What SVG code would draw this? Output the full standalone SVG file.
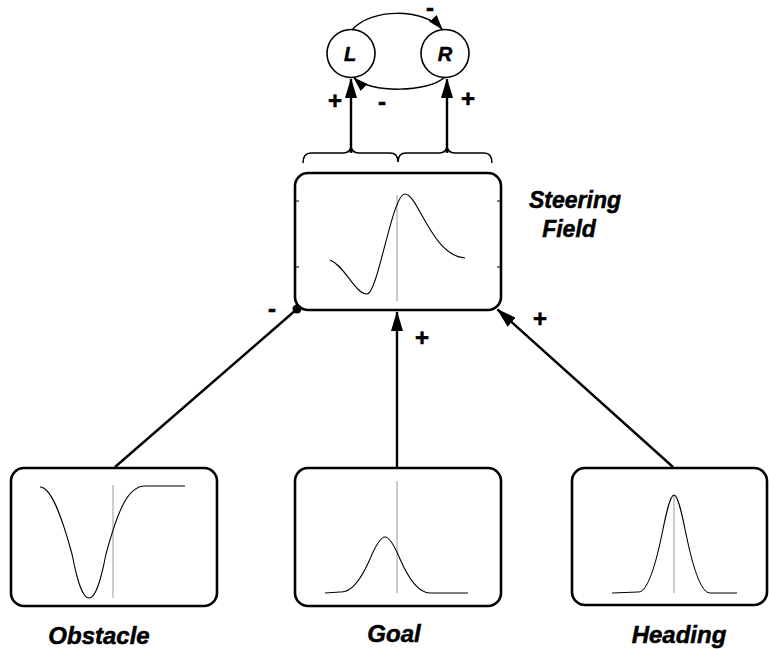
<svg xmlns="http://www.w3.org/2000/svg" width="769" height="649" viewBox="0 0 769 649">
  <style>
    .box { fill: #fff; stroke: #000; stroke-width: 2.6; }
    .curve { fill: none; stroke: #000; stroke-width: 1.1; }
    .axis { stroke: #9a9a9a; stroke-width: 1; }
    .tick { stroke: #000; stroke-width: 1; }
    .conn { fill: none; stroke: #000; stroke-width: 2.4; }
    .thin { fill: none; stroke: #000; stroke-width: 1.5; }
    .label { font-family: "Liberation Sans", Arial, sans-serif; font-weight: bold; font-style: italic; fill: #000; stroke: #000; stroke-width: 0.5; text-anchor: middle; }
    .sign { font-family: "Liberation Sans", Arial, sans-serif; font-weight: bold; font-size: 24px; fill: #000; stroke: #000; stroke-width: 0.6; text-anchor: middle; }
    .node { fill: #fff; stroke: #000; stroke-width: 1.6; }
  </style>
  <defs>
    <marker id="arrow" viewBox="0 0 20 12" refX="19" refY="6" markerWidth="20" markerHeight="12" markerUnits="userSpaceOnUse" orient="auto">
      <path d="M0,0 L20,6 L0,12 z" fill="#000"/>
    </marker>
    <marker id="arrowSmall" viewBox="0 0 15 10" refX="14" refY="5" markerWidth="15" markerHeight="10" markerUnits="userSpaceOnUse" orient="auto">
      <path d="M0,0 L15,5 L0,10 z" fill="#000"/>
    </marker>
  </defs>

  <!-- Motor nodes -->
  <g id="node-L">
    <circle class="node" cx="351" cy="53.5" r="24"/>
    <text class="label" x="350" y="61" font-size="20">L</text>
  </g>
  <g id="node-R">
    <circle class="node" cx="445" cy="53.5" r="24"/>
    <text class="label" x="445" y="61" font-size="20">R</text>
  </g>

  <!-- Steering field -->
  <g id="steering">
    <rect class="box" x="295" y="173" width="206" height="137" rx="13"/>
    <line class="tick" x1="295" y1="201" x2="299" y2="201"/>
    <line class="tick" x1="295" y1="267" x2="299" y2="267"/>
    <line class="tick" x1="497" y1="201" x2="501" y2="201"/>
    <line class="tick" x1="497" y1="267" x2="501" y2="267"/>
    <line class="axis" x1="397" y1="195" x2="397" y2="301"/>
    <path class="curve" d="M330,260 C345,266 355,294 367,294 C378,294 392,194 405,194 C418,194 432,256 465,258"/>
    <text class="label" x="575" y="208" font-size="23">Steering</text>
    <text class="label" x="569" y="237" font-size="23">Field</text>
  </g>

  <!-- Obstacle field -->
  <g id="obstacle">
    <rect class="box" x="11" y="468" width="206" height="138" rx="13"/>
    <line class="axis" x1="113" y1="485" x2="113" y2="598"/>
    <path class="curve" d="M40,487 C50,487 60,510 72,554 C78,585 83,598 89,598 C95,598 100,585 106,554 C118,510 128,486 145,486 L185,486"/>
    <text class="label" x="99" y="644" font-size="24">Obstacle</text>
  </g>

  <!-- Goal field -->
  <g id="goal">
    <rect class="box" x="295" y="468" width="206" height="138" rx="13"/>
    <line class="axis" x1="397" y1="481" x2="397" y2="593"/>
    <path class="curve" d="M325,593 L340,592 C350,593 360,582 370,559 C375,547 380,537 385,537 C390,537 395,547 400,559 C410,582 420,593 430,593 L468,593"/>
    <text class="label" x="394" y="642" font-size="24">Goal</text>
  </g>

  <!-- Heading field -->
  <g id="heading">
    <rect class="box" x="572" y="468" width="195" height="137" rx="13"/>
    <line class="axis" x1="674" y1="495" x2="674" y2="593"/>
    <path class="curve" d="M612,593 L638,592 C646,593 654,573 662,534 C666,514 670,495 674,495 C678,495 682,514 686,534 C694,573 702,593 710,593 L737,593"/>
    <text class="label" x="679" y="643" font-size="24">Heading</text>
  </g>

  <!-- Connectors -->
  <g id="connectors">
    <!-- inputs into the steering field -->
    <line class="conn" x1="115" y1="467" x2="297" y2="309"/>
    <circle cx="297" cy="309" r="4.5" fill="#000"/>
    <line class="conn" x1="397" y1="467" x2="397" y2="312" marker-end="url(#arrow)"/>
    <line class="conn" x1="673" y1="467" x2="497.5" y2="309.5" marker-end="url(#arrow)"/>

    <!-- brace over the steering field -->
    <path class="thin" d="M303,163 Q303,153 311,153 L343,153 Q351,153 351,145 Q351,153 359,153 L390,153 Q398,153 398,162 Q398,153 406,153 L439,153 Q447,153 447,145 Q447,153 455,153 L484,153 Q492,153 492,163" stroke-width="1.8"/>

    <!-- outputs to the motor nodes -->
    <line class="conn" x1="351" y1="153" x2="351" y2="79" marker-end="url(#arrow)"/>
    <line class="conn" x1="447" y1="153" x2="447" y2="79" marker-end="url(#arrow)"/>

    <!-- mutual inhibition between L and R -->
    <path class="thin" d="M352,30 C370,8 424,8 442,29" marker-end="url(#arrowSmall)"/>
    <path class="thin" d="M445,77 C428,93 370,93 354,78" marker-end="url(#arrowSmall)"/>

    <!-- signs -->
    <text class="sign" x="272" y="317">-</text>
    <text class="sign" x="422" y="346">+</text>
    <text class="sign" x="540" y="327">+</text>
    <text class="sign" x="335" y="109">+</text>
    <text class="sign" x="468" y="107">+</text>
    <text class="sign" x="382" y="110">-</text>
    <text class="sign" x="430" y="16" font-size="20">-</text>
  </g>
</svg>
